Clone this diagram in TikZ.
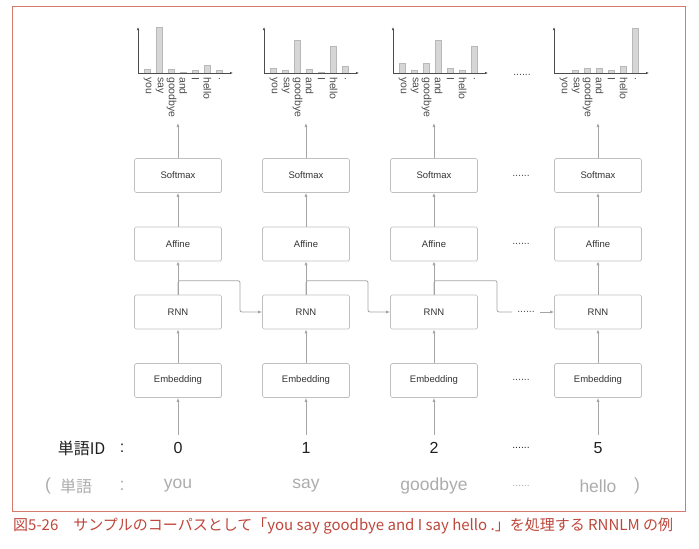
\documentclass[tikz,border=0pt]{standalone}
\usepackage{fontspec}
\setmainfont{Liberation Sans}
\newfontfamily\jpfont{Noto Sans CJK JP}
\usetikzlibrary{arrows.meta,positioning,calc}
\definecolor{framered}{RGB}{214,122,112}
\definecolor{capred}{RGB}{190,70,58}
\definecolor{linegray}{RGB}{165,165,165}
\definecolor{boxgray}{RGB}{192,192,192}
\definecolor{wordgray}{RGB}{172,172,172}

\tikzset{
  layer/.style={draw=boxgray,line width=0.7pt,rounded corners=1.5pt,minimum width=87pt,minimum height=34pt,
    font=\fontsize{9.5}{9.5}\selectfont,text=black!80},
  flow/.style={draw=linegray,line width=0.8pt,-{Latex[length=4pt,width=3.2pt]}},
  link/.style={draw=linegray,line width=0.8pt,rounded corners=2pt},
  axis/.style={draw=black!70,line width=0.8pt,-{Latex[length=3pt,width=2.4pt]}},
  bar/.style={fill=black!16,draw=black!28,line width=0.4pt},
  tick/.style={rotate=-90,anchor=west,inner sep=0pt,font=\fontsize{10.5}{10.5}\selectfont,text=black!70},
  idnum/.style={font=\fontsize{16}{16}\selectfont,text=black!88},
  word/.style={font=\fontsize{17.5}{17.5}\selectfont,text=wordgray},
  dots/.style={font=\fontsize{10.5}{10.5}\selectfont,text=black!70,inner xsep=5pt},
  caption/.style={anchor=west,inner sep=0pt,font=\jpfont\fontsize{15}{15}\selectfont,text=capred}
}

\begin{document}
\begin{tikzpicture}[x=1pt,y=-1pt]
  \useasboundingbox (0,0) rectangle (699,549);
  \draw[framered,line width=1pt] (12,6) rectangle (685,511);

  % layers of each time step
  \foreach \i/\x/\id/\w in {1/178/0/you,2/306/1/say,3/434/2/goodbye,4/598/5/hello}{
    \node[layer] (emb\i) at (\x,380.5) {Embedding};
    \node[layer] (rnn\i) at (\x,312) {RNN};
    \node[layer] (aff\i) at (\x,244) {Affine};
    \node[layer] (sm\i) at (\x,175.5) {Softmax};
    \node[idnum] (id\i) at (\x,448) {\id};
    \node[word] (w\i) at (\x,486) {\w};
    \coordinate (out\i) at (\x,123);
    \draw[flow] ([yshift=4pt]id\i.north) -- (emb\i);
    \draw[flow] (emb\i) -- (rnn\i);
    \draw[flow] (rnn\i) -- (aff\i);
    \draw[flow] (aff\i) -- (sm\i);
    \draw[flow] (sm\i) -- (out\i);
  }

  % probability charts
  \foreach \ox/\hs in {138/{4,46,4,1.3,3.3,8,3.3},264/{5,3,33,4,0.7,27,7.3},
                       393/{10,3,10,33,5,3,27},554/{0.3,3,5,5,3,7.3,45}}{
    \foreach \h [count=\k] in \hs
      \draw[bar] (\ox+12*\k-5.5,73) rectangle ++(6,-\h);
    \draw[axis] (\ox,73) -- (\ox,27);
    \draw[axis] (\ox,73) -- (\ox+95,73);
    \foreach \lab [count=\k] in {you,say,goodbye,and,I,hello,.}
      \node[tick] at (\ox+12*\k-2.5,77) {\lab};
  }

  % hidden state passed along
  \coordinate (bend1) at ($(rnn1.east)!.45!(rnn2.west)$);
  \coordinate (bend2) at ($(rnn2.east)!.45!(rnn3.west)$);
  \coordinate (bend3) at (497,312);
  \node[dots] (dotR) at (526,312) {......};
  \draw[link,-{Latex[length=4pt,width=3.2pt]}] (rnn1.north) -- ++(0,-14) -| (bend1) -- (rnn2.west);
  \draw[link,-{Latex[length=4pt,width=3.2pt]}] (rnn2.north) -- ++(0,-14) -| (bend2) -- (rnn3.west);
  \draw[link] (rnn3.north) -- ++(0,-14) -| (bend3) -- (dotR.west);
  \draw[flow] (dotR.east) -- (rnn4.west);

  % dots between step 3 and the last step
  \node[dots] (dotC) at (522,75) {......};
  \node[dots] (dotS) at (521,176) {......};
  \node[dots] (dotA) at (521,244) {......};
  \node[dots] (dotE) at (521,380) {......};
  \node[dots,text=black!85] (dotI) at (521,448) {......};
  \node[dots,text=wordgray] (dotW) at (521,486) {......};

  % row labels
  \node[idnum,anchor=east] (idlab) at (109,448) {\jpfont 単語ID};
  \node[idnum] (idcol) at (122,448) {:};
  \node[word] (wopen) at (48,486) {(};
  \node[word] (wlab) at (76,486) {\jpfont\fontsize{16}{16}\selectfont 単語};
  \node[word] (wcol) at (122,486) {:};
  \node[word] (wclose) at (637,486) {)};

  \node[caption] (cap) at (13,526) {図5-26　サンプルのコーパスとして「you say goodbye and I say hello .」を処理する RNNLM の例};
\end{tikzpicture}
\end{document}
